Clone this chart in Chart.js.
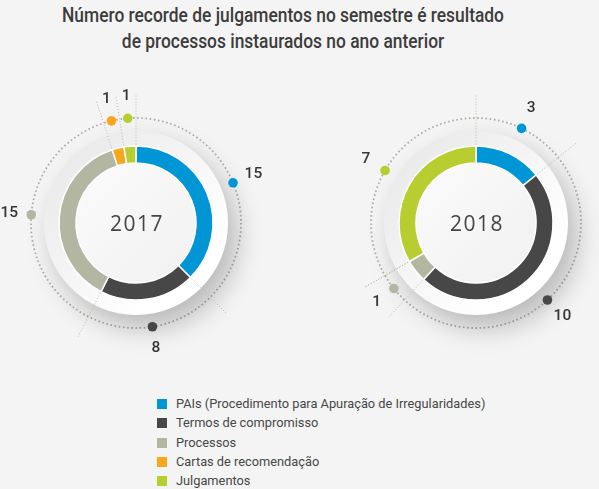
<!DOCTYPE html>
<html><head><meta charset="utf-8">
<script src="https://cdn.jsdelivr.net/npm/chart.js@4.4.1/dist/chart.umd.min.js"></script>
<style>
html,body{margin:0;padding:0;}
body{width:599px;height:489px;background:#f4f4f4;position:relative;overflow:hidden;font-family:Roboto,"Noto Sans",sans-serif;}
#title{position:absolute;left:0;top:2px;width:566px;text-align:center;color:#3c3c3c;font-weight:500;font-size:21px;line-height:26px;}
#title span{display:block;white-space:nowrap;transform-origin:50% 50%;}
canvas{position:absolute;}
#c2017{left:-9px;top:78px;}
#c2018{left:331px;top:78px;}
#legend{position:absolute;left:157px;top:394px;font-size:12.8px;color:#474747;}
#legend div{height:19.3px;line-height:19.3px;white-space:nowrap;}
#legend i{display:inline-block;width:10px;height:10px;margin-right:9px;vertical-align:-1px;}
</style>
</head><body>
<div id="title"><span>Número recorde de julgamentos no semestre é resultado</span><span>de processos instaurados no ano anterior</span></div>
<canvas id="c2017" width="290" height="290"></canvas>
<canvas id="c2018" width="290" height="290"></canvas>
<div id="legend"></div>
<script>
const categories = ["PAIs (Procedimento para Apuração de Irregularidades)","Termos de compromisso","Processos","Cartas de recomendação","Julgamentos"];
const values2017 = [15, 8, 15, 1, 1];
const values2018 = [3, 10, 1, 0, 7];
const years = ["2017", "2018"];
const colors = ["#0096d6", "#474747", "#b3b6a0", "#f6a71e", "#b8cd2f"];

// title fit
(function(){
  const spans = document.querySelectorAll('#title span');
  const range = document.createRange(); range.selectNodeContents(spans[0]);
  const tw = range.getBoundingClientRect().width;
  const s = 442 / tw;
  spans.forEach(sp => sp.style.transform = 'scaleX(' + s + ')');
})();

// legend
const lg = document.getElementById('legend');
categories.forEach((c, i) => {
  const d = document.createElement('div');
  const sq = document.createElement('i'); sq.style.background = colors[i];
  d.appendChild(sq); d.appendChild(document.createTextNode(c));
  lg.appendChild(d);
});

const decor = {
  id: 'decor',
  beforeDatasetsDraw(chart, args, opts) {
    const meta = chart.getDatasetMeta(0);
    const a0 = meta.data[0];
    const x = a0.x, y = a0.y, R = a0.outerRadius, r = a0.innerRadius;
    const ctx = chart.ctx;
    ctx.save();
    // dotted outer circle
    ctx.beginPath();
    ctx.arc(x, y, R * 1.364, 0, Math.PI * 2);
    ctx.setLineDash([1.6, 2.6]);
    ctx.lineWidth = 1.8;
    ctx.strokeStyle = '#aeaba0';
    ctx.stroke();
    ctx.setLineDash([]);
    // white disc with shadow
    ctx.save();
    ctx.shadowColor = 'rgba(0,0,0,0.24)';
    ctx.shadowBlur = 26;
    ctx.shadowOffsetX = 9;
    ctx.shadowOffsetY = 13;
    const g = ctx.createLinearGradient(x - R, y - R, x + R * 0.6, y + R * 0.6);
    g.addColorStop(0, '#e8e8e8');
    g.addColorStop(1, '#ffffff');
    ctx.fillStyle = g;
    ctx.beginPath();
    ctx.arc(x, y, R * 1.195, 0, Math.PI * 2);
    ctx.fill();
    ctx.restore();
    // inner face
    const g2 = ctx.createLinearGradient(x - r, y - r, x + r, y + r);
    g2.addColorStop(0, '#fbfbfb');
    g2.addColorStop(1, '#f1f1f1');
    ctx.fillStyle = g2;
    ctx.beginPath();
    ctx.arc(x, y, r, 0, Math.PI * 2);
    ctx.fill();
    // radial dotted lines at segment boundaries
    ctx.setLineDash([1, 2]);
    ctx.lineWidth = 1;
    ctx.strokeStyle = '#bdb7a6';
    meta.data.forEach(arc => {
      const ang = arc.startAngle;
      ctx.beginPath();
      ctx.moveTo(x + Math.cos(ang) * R * 0.98, y + Math.sin(ang) * R * 0.98);
      ctx.lineTo(x + Math.cos(ang) * R * 1.68, y + Math.sin(ang) * R * 1.68);
      ctx.stroke();
    });
    ctx.restore();
  },
  afterDatasetsDraw(chart, args, opts) {
    const meta = chart.getDatasetMeta(0);
    const ds = chart.data.datasets[0];
    const a0 = meta.data[0];
    const x = a0.x, y = a0.y, R = a0.outerRadius;
    const ctx = chart.ctx;
    ctx.save();
    meta.data.forEach((arc, i) => {
      const v = ds.data[i];
      if (!v) return;
      const mid = (arc.startAngle + arc.endAngle) / 2;
      ctx.fillStyle = ds.backgroundColor[i];
      ctx.beginPath();
      ctx.arc(x + Math.cos(mid) * R * 1.364, y + Math.sin(mid) * R * 1.364, 4.8, 0, Math.PI * 2);
      ctx.fill();
      ctx.fillStyle = '#363636';
      ctx.font = '500 15.5px Roboto, "Noto Sans", sans-serif';
      ctx.textAlign = 'center';
      ctx.textBaseline = 'middle';
      ctx.fillText(String(v), x + Math.cos(mid) * R * 1.65, y + Math.sin(mid) * R * 1.65);
    });
    // center year
    ctx.fillStyle = '#454545';
    ctx.font = '400 21px "Open Sans", Roboto, sans-serif';
    ctx.letterSpacing = '1.5px';
    ctx.textAlign = 'center';
    ctx.textBaseline = 'middle';
    ctx.fillText(opts.year, x + 1, y + 2);
    ctx.restore();
  }
};

function makeChart(id, values, year) {
  return new Chart(document.getElementById(id), {
    type: 'doughnut',
    data: {
      labels: categories,
      datasets: [{
        data: values,
        backgroundColor: colors,
        borderColor: '#ffffff',
        borderWidth: 1.5
      }]
    },
    options: {
      responsive: false,
      animation: false,
      radius: 77,
      cutout: '78%',
      events: [],
      plugins: {
        legend: { display: false },
        tooltip: { enabled: false },
        decor: { year: year }
      }
    },
    plugins: [decor]
  });
}
makeChart('c2017', values2017, years[0]);
makeChart('c2018', values2018, years[1]);
</script>
</body></html>
